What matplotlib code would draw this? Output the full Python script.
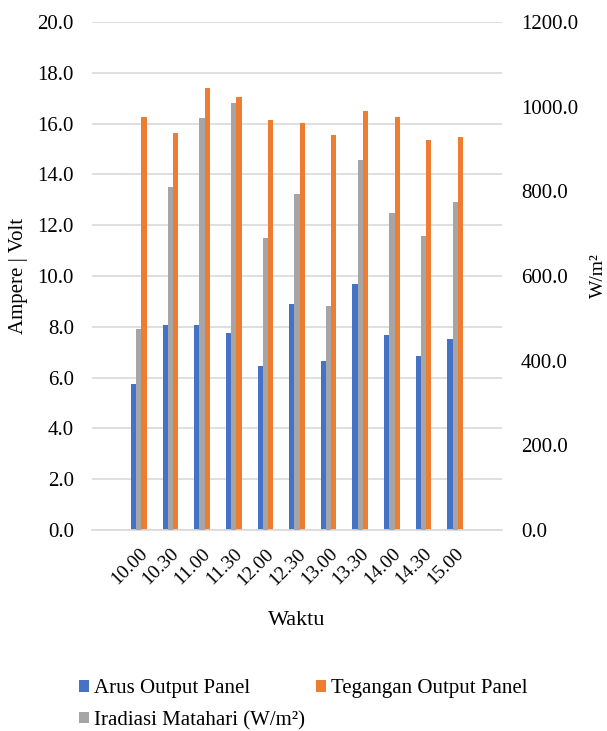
import numpy as np
import matplotlib
matplotlib.use("Agg")
from matplotlib import pyplot as plt

# data
waktu = ["10.00", "10.30", "11.00", "11.30", "12.00", "12.30",
         "13.00", "13.30", "14.00", "14.30", "15.00"]
arus = [5.74, 8.06, 8.09, 7.76, 6.45, 8.89, 6.67, 9.68, 7.67, 6.85, 7.51]
tegangan = [16.26, 15.63, 17.41, 17.06, 16.13, 16.01, 15.56, 16.48, 16.25, 15.34, 15.47]
iradiasi = [475, 811, 973, 1009, 689, 793, 530, 873, 748, 695, 774]

left_ticks = np.arange(0, 21, 2)
right_ticks = np.arange(0, 1201, 200)


def main():
    plt.rcParams["font.family"] = ["Liberation Serif", "DejaVu Serif"]
    plt.rcParams["font.size"] = 15

    fig = plt.figure(figsize=(6.07, 7.31), dpi=100)
    ax = fig.add_axes([92 / 607, 1 - 530 / 731, 410 / 607, 508 / 731])
    ax2 = ax.twinx()

    x = np.arange(len(waktu))
    w = 0.165

    # bars: blue | gray | orange
    b1 = ax.bar(x - w, arus, w, color="#4472C4", label="Arus Output Panel")
    b3 = ax.bar(x + w, tegangan, w, color="#ED7D31", label="Tegangan Output Panel")
    b2 = ax2.bar(x, iradiasi, w, color="#A5A5A5", label="Iradiasi Matahari (W/m²)")

    ax.set_xlim(-1.48, len(waktu) - 1 + 1.48)
    ax.set_ylim(0, 20)
    ax2.set_ylim(0, 1200)
    ax.set_yticks(left_ticks)
    ax.set_yticklabels(["{:.1f}".format(v) for v in left_ticks])
    ax2.set_yticks(right_ticks)
    ax2.set_yticklabels(["{:.1f}".format(v) for v in right_ticks])

    ax.set_xticks(x)
    ax.set_xticklabels(waktu, rotation=45, ha="right", rotation_mode="anchor", fontsize=14)

    # gridlines only from left axis
    ax.grid(axis="y", color="#d9d9d9", linewidth=1.2)
    ax.set_axisbelow(True)
    for a in (ax, ax2):
        for s in a.spines.values():
            s.set_visible(False)
        a.tick_params(length=0)
    ax.spines["bottom"].set_visible(True)
    ax.spines["bottom"].set_color("#d9d9d9")
    ax.spines["bottom"].set_linewidth(1.2)

    ax.tick_params(axis="y", pad=13)
    ax2.tick_params(axis="y", pad=13.5)
    ax.tick_params(axis="x", pad=11)

    ax.set_ylabel("Ampere | Volt")
    ax.yaxis.set_label_coords(-64 / 410, 0.5)
    ax2.set_ylabel("W/m²", fontsize=14)
    ax2.yaxis.set_label_coords(1 + 88 / 410, 0.5)
    ax.set_xlabel("Waktu", labelpad=16, fontsize=16)

    # legend, row-wise order
    fig.legend([b1, b2, b3],
               ["Arus Output Panel", "Iradiasi Matahari (W/m²)", "Tegangan Output Panel"],
               ncol=2, loc="upper left", bbox_to_anchor=(71 / 607, 1 - 671 / 731),
               frameon=False, handlelength=0.45, handleheight=0.45, handletextpad=0.25,
               columnspacing=0.55, labelspacing=0.6, borderaxespad=0, fontsize=15)

    fig.savefig("out.png", dpi=100, facecolor="white")


if __name__ == "__main__":
    main()
